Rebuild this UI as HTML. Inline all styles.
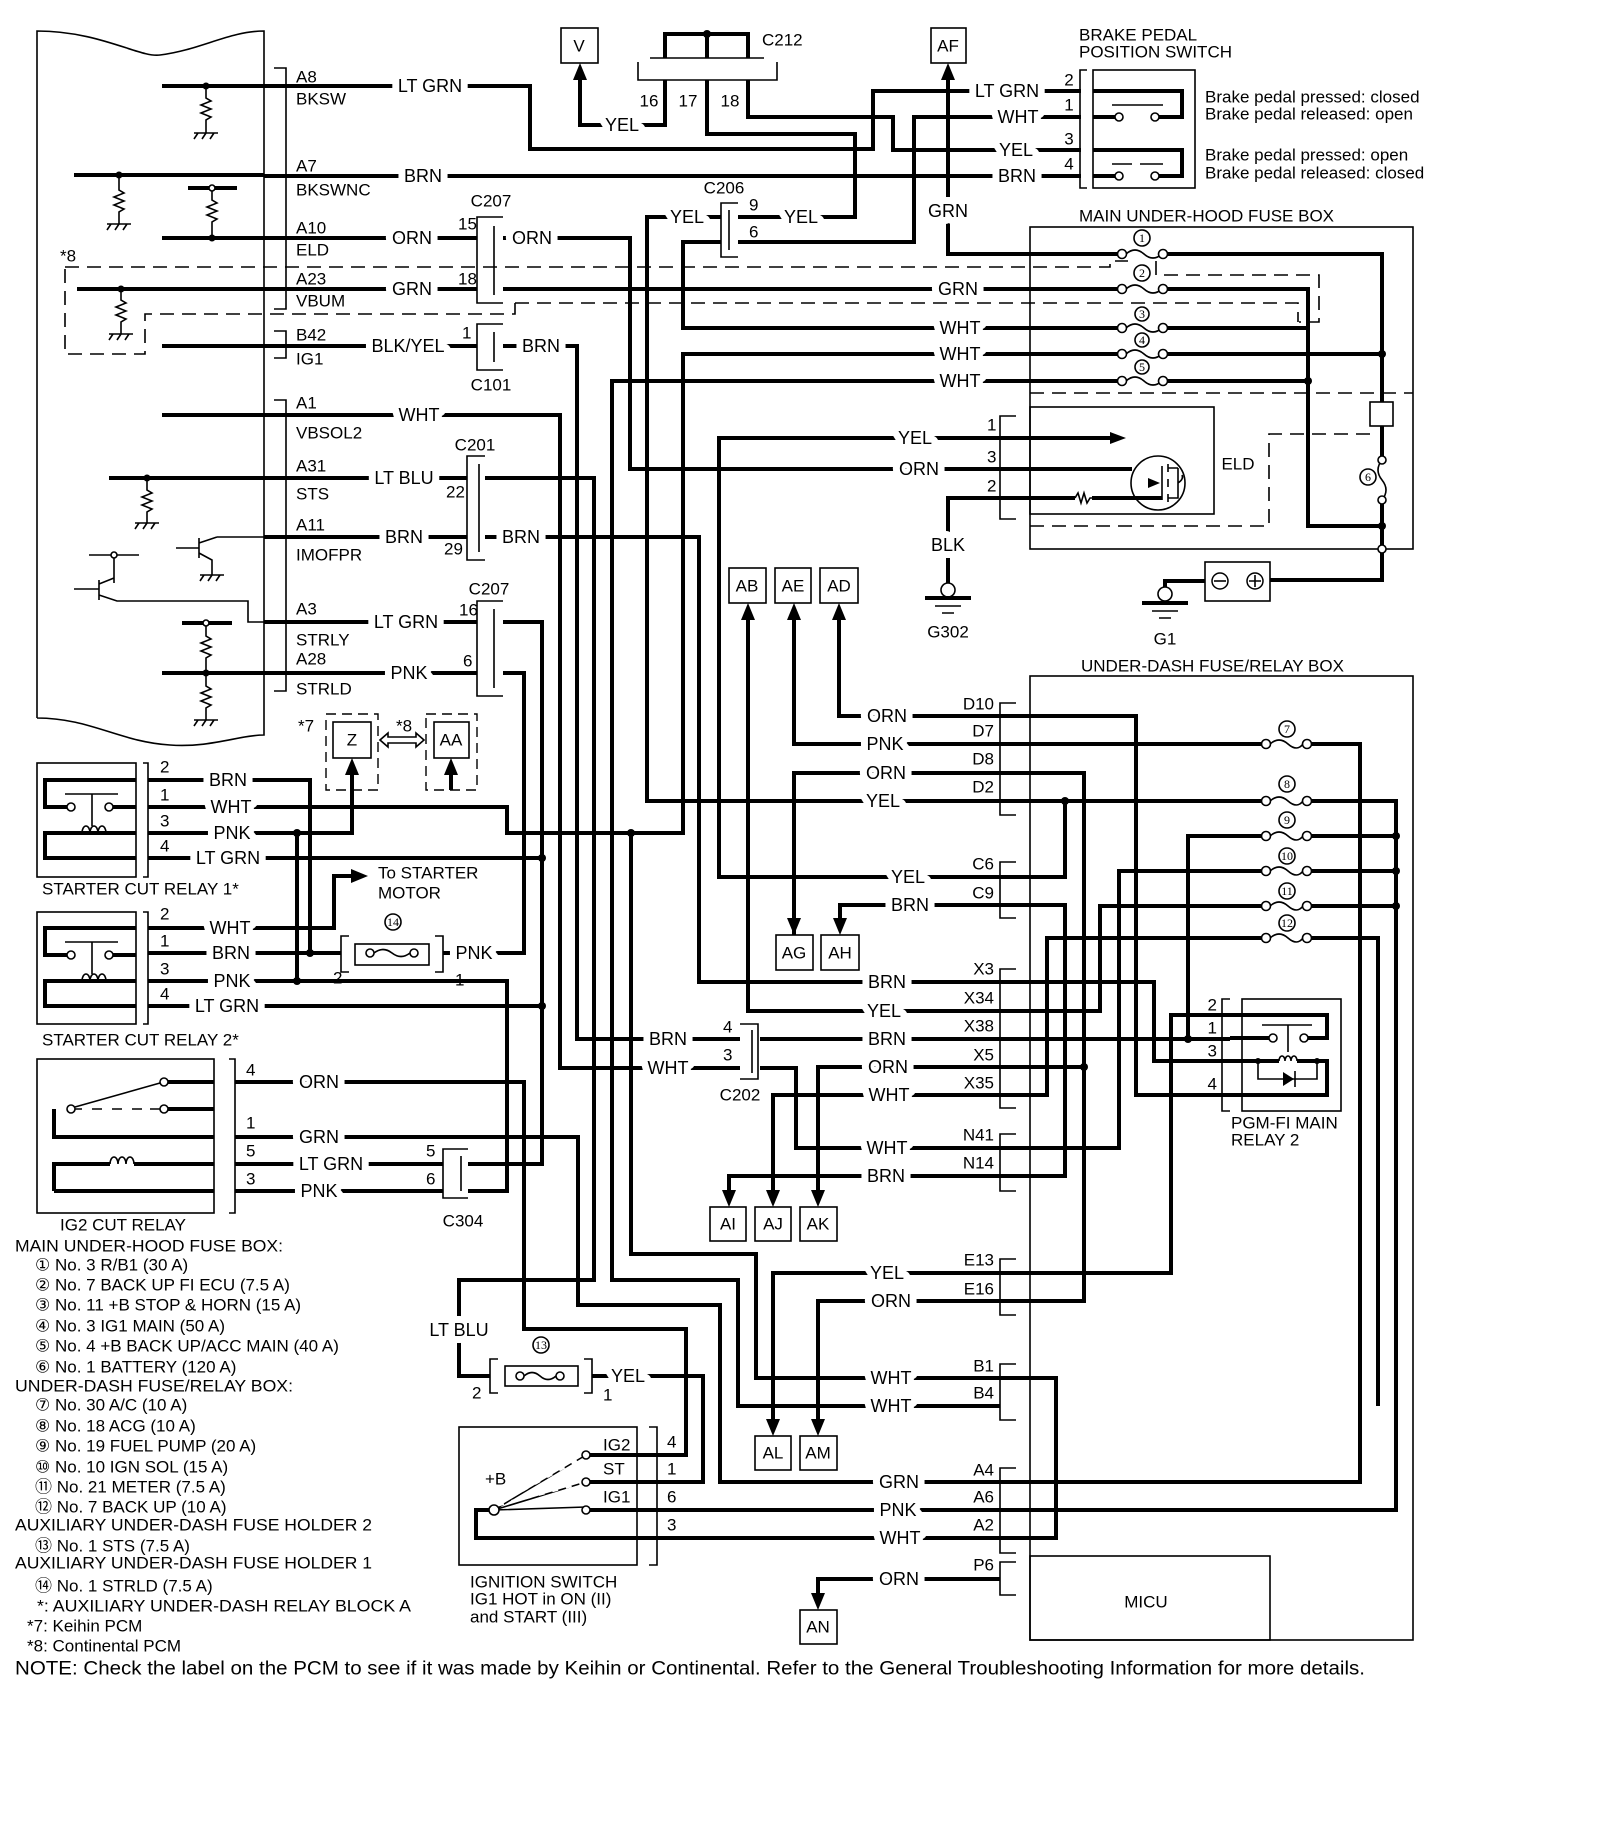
<!DOCTYPE html>
<html><head><meta charset="utf-8"><style>
html,body{margin:0;padding:0;background:#fff}
svg{display:block}
text{font-family:"Liberation Sans","DejaVu Sans","Noto Sans CJK JP",sans-serif;fill:#000}
.w{fill:none;stroke:#000;stroke-width:4;stroke-linejoin:miter}
.t{fill:none;stroke:#000;stroke-width:1.6}
.d{fill:none;stroke:#000;stroke-width:1.6;stroke-dasharray:14 8}
.l{font-size:18px;stroke:#fff;stroke-width:14px;stroke-linejoin:round;paint-order:stroke;dominant-baseline:central}
.n{font-size:17px;dominant-baseline:central}
.g{font-size:17px;dominant-baseline:central}
.bx{fill:#fff;stroke:#000;stroke-width:1.6}
.ar{fill:#000}
.dot{fill:#000}
.oc{fill:#fff;stroke:#000;stroke-width:1.6}
.fn{font-size:12px;font-family:"Liberation Serif",serif;dominant-baseline:central;text-anchor:middle}
</style></head><body>
<svg width="1600" height="1839" viewBox="0 0 1600 1839" xmlns="http://www.w3.org/2000/svg">

<!-- PCM box -->
<path class="t" d="M37,718 V31 C100,31 140,58 160,55 C200,50 230,31 264,31 V735 C240,735 210,748 170,745 C120,742 90,718 37,718"/>
<!-- PCM internal -->
<g>
<path class="w" d="M162,86 H264 M74,175 H264 M188,188 H237 M162,238 H264 M77,289 H264 M162,346 H264 M162,415 H264 M109,478 H264 M182,623 H232 M162,673 H264"/>
<path class="t" d="M206,86 V98 l5,3 l-10,4 l10,4 l-10,4 l10,4 l-5,3 V133 M194,133 h24 M198,133 l-4,6 M206,133 l-4,6 M214,133 l-4,6"/>
<path class="t" d="M119,175 V190 l5,3 l-10,4 l10,4 l-10,4 l10,4 l-5,3 V224 M107,224 h24 M111,224 l-4,6 M119,224 l-4,6 M127,224 l-4,6"/>
<path class="t" d="M212,188 V200 l5,3 l-10,4 l10,4 l-10,4 l10,4 l-5,3 V238"/>
<path class="t" d="M121,289 V300 l5,3 l-10,4 l10,4 l-10,4 l10,4 l-5,3 V334 M109,334 h24 M113,334 l-4,6 M121,334 l-4,6 M129,334 l-4,6"/>
<path class="t" d="M147,478 V490 l5,3 l-10,4 l10,4 l-10,4 l10,4 l-5,3 V523 M135,523 h24 M139,523 l-4,6 M147,523 l-4,6 M155,523 l-4,6"/>
<path class="t" d="M206,623 V636 l5,3 l-10,4 l10,4 l-10,4 l10,4 l-5,3 V673 V686 l5,3 l-10,4 l10,4 l-10,4 l10,4 l-5,3 V720 M194,720 h24 M198,720 l-4,6 M206,720 l-4,6 M214,720 l-4,6"/>
<path class="t" d="M217,537 H264 M176,548 H199 M199,538 V558 M199,543 L217,537 M199,553 L212,560 V575 M200,575 h24 M204,575 l-4,6 M212,575 l-4,6 M220,575 l-4,6"/>
<path class="t" d="M89,555 H139 M114,555 V583 M99,580 V600 M74,589 H99 M99,584 L114,578 M99,595 L117,601 H248 V622 H264"/>
<circle class="dot" cx="206" cy="86" r="3.5"/><circle class="dot" cx="119" cy="175" r="3.5"/>
<circle class="oc" cx="212" cy="188" r="3"/><circle class="dot" cx="212" cy="238" r="3.5"/>
<circle class="dot" cx="121" cy="289" r="3.5"/><circle class="dot" cx="147" cy="478" r="3.5"/>
<circle class="oc" cx="114" cy="555" r="3"/><circle class="oc" cx="206" cy="623" r="3"/>
<circle class="dot" cx="206" cy="673" r="3.5"/>
</g>
<!-- PCM bracket -->
<path class="t" d="M274,68 H286 V309 H274 M274,331 H286 V358 H274 M274,400 H286 V691 H274"/>
<g class="n">
<text x="296" y="77">A8</text><text x="296" y="99">BKSW</text>
<text x="296" y="166">A7</text><text x="296" y="190">BKSWNC</text>
<text x="296" y="228">A10</text><text x="296" y="250">ELD</text>
<text x="296" y="279">A23</text><text x="296" y="301">VBUM</text>
<text x="296" y="335">B42</text><text x="296" y="359">IG1</text>
<text x="296" y="403">A1</text><text x="296" y="433">VBSOL2</text>
<text x="296" y="466">A31</text><text x="296" y="494">STS</text>
<text x="296" y="525">A11</text><text x="296" y="555">IMOFPR</text>
<text x="296" y="609">A3</text><text x="296" y="640">STRLY</text>
<text x="296" y="659">A28</text><text x="296" y="689">STRLD</text>
</g>

<!-- dashed *8 -->
<path class="d" d="M65,267 H1110 V261 H1128 M1156,261 V275 H1319 V322 H1299 M515,303 H1298 V322 M515,303 V314 H145 V354 H65 V267"/>
<text class="n" x="60" y="256">*8</text>

<!-- main wires -->
<path class="w" d="M264,86 H530 V149 H873 V91 H1081"/>
<path class="w" d="M264,176 H1081"/>
<path class="w" d="M264,238 H477 M503,238 H630 V469 H1000"/>
<path class="w" d="M264,289 H477 M503,289 H1122"/>
<path class="w" d="M264,346 H477 M503,346 H577 V1039 H740"/>
<path class="w" d="M264,415 H560 V1068 H740"/>
<path class="w" d="M264,478 H467 M485,478 H594 V1280 H459 V1376 H490"/>
<path class="w" d="M264,537 H467 M485,537 H699 V982 H1000"/>
<path class="w" d="M264,622 H477 M503,622 H542 V1164 H468"/>
<path class="w" d="M264,673 H477 M503,673 H524 V953 H443"/>
<!-- C212 -->
<path class="w" d="M665,58 V34 H748 V58 M707,34 V58"/>
<circle class="dot" cx="707" cy="34" r="4"/>
<path class="t" d="M650,58 H764 M638,62 V80 H777 V62"/>
<path class="w" d="M665,80 V125 H580 V78"/>
<path class="w" d="M707,80 V134 H855 V217 H738"/>
<path class="w" d="M748,80 V117 H893 V150 H1081"/>
<path class="w" d="M1081,117 H914 V242 H738"/>
<path class="w" d="M721,217 H647 V801 H1000"/>
<path class="w" d="M721,242 H683 V328 H1122"/>
<path class="w" d="M948,78 V254 H1122"/>
<path class="w" d="M1122,354 H683 V833 H507 V807 H148"/>
<path class="w" d="M631,833 V1254 H756 V1378 H1056 V1538 H637"/>
<path class="w" d="M1122,381 H612 V1280 H738 V1406 H1000"/>
<path class="w" d="M1000,438 H719 V877 H1065 V801"/>
<path class="w" d="M1000,498 H948 V584"/>
<!-- fuse box right side -->
<path class="w" d="M1163,254 H1382 V456 M1382,504 V580 H1270"/>
<path class="w" d="M1163,289 H1308 V526 H1382 M1163,328 H1308 M1163,354 H1382 M1163,381 H1308"/>
<circle class="dot" cx="1382" cy="354" r="4"/><circle class="dot" cx="1382" cy="526" r="4"/><circle class="dot" cx="1308" cy="381" r="4"/>
<!-- connectors top -->
<path class="t" d="M503,217 H477 V303 H503 M494,226 V295"/>
<path class="t" d="M503,324 H477 V370 H503 M494,332 V362"/>
<path class="t" d="M485,456 H467 V560 H485 M479,464 V552"/>
<path class="t" d="M503,601 H477 V696 H503 M494,609 V688"/>
<path class="t" d="M738,203 H721 V257 H738 M729,210 V250"/>
<text class="n" x="458" y="224">15</text><text class="n" x="458" y="279">18</text>
<text class="n" x="491" y="201" text-anchor="middle">C207</text>
<text class="n" x="462" y="333">1</text><text class="n" x="491" y="385" text-anchor="middle">C101</text>
<text class="n" x="475" y="445" text-anchor="middle">C201</text>
<text class="n" x="446" y="492">22</text><text class="n" x="444" y="549">29</text>
<text class="n" x="459" y="610">16</text><text class="n" x="463" y="661">6</text>
<text class="n" x="489" y="589" text-anchor="middle">C207</text>
<text class="n" x="749" y="205">9</text><text class="n" x="749" y="232">6</text>
<text class="n" x="724" y="188" text-anchor="middle">C206</text>
<text class="n" x="762" y="40">C212</text>
<text class="n" x="649" y="101" text-anchor="middle">16</text><text class="n" x="688" y="101" text-anchor="middle">17</text><text class="n" x="730" y="101" text-anchor="middle">18</text>

<!-- wire labels top -->
<g class="l" text-anchor="middle">
<text x="430" y="86">LT GRN</text><text x="423" y="176">BRN</text><text x="412" y="238">ORN</text>
<text x="532" y="238">ORN</text><text x="412" y="289">GRN</text><text x="408" y="346">BLK/YEL</text>
<text x="541" y="346">BRN</text><text x="419" y="415">WHT</text><text x="404" y="478">LT BLU</text>
<text x="404" y="537">BRN</text><text x="521" y="537">BRN</text><text x="406" y="622">LT GRN</text>
<text x="409" y="673">PNK</text><text x="622" y="125">YEL</text><text x="801" y="217">YEL</text>
<text x="687" y="217">YEL</text><text x="1007" y="91">LT GRN</text><text x="1018" y="117">WHT</text>
<text x="1016" y="150">YEL</text><text x="1017" y="176">BRN</text><text x="948" y="211">GRN</text>
<text x="958" y="289">GRN</text><text x="960" y="328">WHT</text><text x="960" y="354">WHT</text><text x="960" y="381">WHT</text>
<text x="915" y="438">YEL</text><text x="919" y="469">ORN</text><text x="948" y="545">BLK</text>
</g>

<!-- boxes V AF -->
<rect class="bx" x="561" y="28" width="37" height="35"/><text class="n" x="579" y="46" text-anchor="middle">V</text>
<rect class="bx" x="931" y="28" width="35" height="35"/><text class="n" x="948" y="46" text-anchor="middle">AF</text>
<polygon class="ar" points="580,63 573,80 587,80"/><polygon class="ar" points="948,63 941,80 955,80"/>

<!-- brake switch -->
<text class="n" x="1079" y="35">BRAKE PEDAL</text><text class="n" x="1079" y="52">POSITION SWITCH</text>
<path class="t" d="M1087,70 H1080 V188 H1087"/>
<rect class="bx" x="1093" y="70" width="102" height="118"/>
<path class="w" d="M1093,91 H1182 V117 H1157 M1117,117 H1093 M1093,150 H1182 V176 H1157 M1117,176 H1093"/>
<path class="t" d="M1112,105 H1163"/><path class="t" d="M1112,164 H1132 M1140,164 H1163"/>
<circle class="oc" cx="1119" cy="117" r="4"/><circle class="oc" cx="1155" cy="117" r="4"/>
<circle class="oc" cx="1119" cy="176" r="4"/><circle class="oc" cx="1155" cy="176" r="4"/>
<g class="n" text-anchor="middle"><text x="1069" y="80">2</text><text x="1069" y="105">1</text><text x="1069" y="139">3</text><text x="1069" y="164">4</text></g>
<g class="g"><text x="1205" y="97">Brake pedal pressed: closed</text><text x="1205" y="114">Brake pedal released: open</text>
<text x="1205" y="155">Brake pedal pressed: open</text><text x="1205" y="173">Brake pedal released: closed</text></g>

<!-- main under-hood fuse box -->
<text class="n" x="1079" y="216">MAIN UNDER-HOOD FUSE BOX</text>
<rect x="1030" y="227" width="383" height="322" fill="none" stroke="#000" stroke-width="1.6"/>
<path class="d" d="M1030,393 H1413 M1030,526 H1269 V434 H1370"/>
<g id="fuses">
<path class="t" d="M1126,254 q9,-8 18,0 t18,0 M1126,289 q9,-8 18,0 t18,0 M1126,328 q9,-8 18,0 t18,0 M1126,354 q9,-8 18,0 t18,0 M1126,381 q9,-8 18,0 t18,0"/>
<circle class="oc" cx="1122" cy="254" r="4.5"/><circle class="oc" cx="1163" cy="254" r="4.5"/>
<circle class="oc" cx="1122" cy="289" r="4.5"/><circle class="oc" cx="1163" cy="289" r="4.5"/>
<circle class="oc" cx="1122" cy="328" r="4.5"/><circle class="oc" cx="1163" cy="328" r="4.5"/>
<circle class="oc" cx="1122" cy="354" r="4.5"/><circle class="oc" cx="1163" cy="354" r="4.5"/>
<circle class="oc" cx="1122" cy="381" r="4.5"/><circle class="oc" cx="1163" cy="381" r="4.5"/>
<circle class="oc" cx="1142" cy="238" r="8"/><text class="fn" x="1142" y="238">1</text>
<circle class="oc" cx="1142" cy="273" r="8"/><text class="fn" x="1142" y="273">2</text>
<circle class="oc" cx="1142" cy="314" r="7"/><text class="fn" x="1142" y="314">3</text>
<circle class="oc" cx="1142" cy="340" r="7"/><text class="fn" x="1142" y="340">4</text>
<circle class="oc" cx="1142" cy="367" r="7"/><text class="fn" x="1142" y="367">5</text>
</g>
<rect class="bx" x="1370" y="402" width="23" height="24"/>
<path class="t" d="M1382,460 q-8,10 0,20 t0,20"/>
<circle class="oc" cx="1382" cy="460" r="4"/><circle class="oc" cx="1382" cy="500" r="4"/>
<circle class="oc" cx="1368" cy="477" r="8"/><text class="fn" x="1368" y="477">6</text>
<circle class="oc" cx="1382" cy="549" r="4"/>
<!-- ELD -->
<path class="t" d="M1016,416 H1000 V519 H1016"/>
<g class="n"><text x="987" y="425">1</text><text x="987" y="457">3</text><text x="987" y="486">2</text></g>
<rect x="1030" y="407" width="184" height="107" fill="none" stroke="#000" stroke-width="1.6"/>
<path class="w" d="M1000,438 H1112 M1000,469 H1132 M1000,498 H1075 M1092,498 H1162"/>
<polygon class="ar" points="1126,438 1110,432 1110,444"/>
<path class="t" d="M1075,498 l3,-5 l3,10 l3,-10 l3,10 l3,-5 h2"/>
<circle cx="1158" cy="483" r="27" fill="none" stroke="#000" stroke-width="1.6"/>
<path class="t" d="M1162,466 V500 M1168,464 V472 M1168,479 V487 M1168,494 V502 M1168,468 H1178 M1168,498 H1178 V468 M1178,483 q6,-4 4,-8"/>
<polygon class="ar" points="1160,483 1148,478 1148,488"/>
<text class="n" x="1238" y="464" text-anchor="middle">ELD</text>
<!-- G302 / battery / G1 -->
<circle class="oc" cx="948" cy="590" r="7"/>
<path class="w" d="M925,598 H971"/><path class="t" d="M935,606 H961 M942,613 H954"/>
<text class="n" x="948" y="632" text-anchor="middle">G302</text>
<rect class="bx" x="1205" y="562" width="65" height="39"/>
<circle cx="1220" cy="581" r="8" fill="none" stroke="#000" stroke-width="1.5"/><path class="t" d="M1214,581 h12"/>
<circle cx="1255" cy="581" r="8" fill="none" stroke="#000" stroke-width="1.5"/><path class="t" d="M1249,581 h12 M1255,575 v12"/>
<path class="w" d="M1205,581 H1165 V592"/>
<circle class="oc" cx="1165" cy="594" r="7"/>
<path class="w" d="M1142,603 H1188"/><path class="t" d="M1152,611 H1178 M1159,618 H1171"/>
<text class="n" x="1165" y="639" text-anchor="middle">G1</text>

<!-- AB AE AD -->
<rect class="bx" x="729" y="568" width="37" height="35"/><text class="n" x="747" y="586" text-anchor="middle">AB</text>
<rect class="bx" x="775" y="568" width="36" height="35"/><text class="n" x="793" y="586" text-anchor="middle">AE</text>
<rect class="bx" x="820" y="568" width="38" height="35"/><text class="n" x="839" y="586" text-anchor="middle">AD</text>
<path class="w" d="M748,618 V1011 H1100 V906 H1266 M794,618 V744 H1266 M839,618 V716 H1136 V1095 H1230"/>
<polygon class="ar" points="748,603 741,620 755,620"/><polygon class="ar" points="794,603 787,620 801,620"/><polygon class="ar" points="839,603 832,620 846,620"/>

<!-- under-dash box -->
<text class="n" x="1081" y="666">UNDER-DASH FUSE/RELAY BOX</text>
<rect x="1030" y="676" width="383" height="964" fill="none" stroke="#000" stroke-width="1.6"/>
<rect x="1030" y="1556" width="240" height="84" fill="none" stroke="#000" stroke-width="1.6"/>
<text class="n" x="1146" y="1602" text-anchor="middle">MICU</text>
<path class="t" d="M1016,703 H1000 V815 H1016 M1016,862 H1000 V918 H1016 M1016,969 H1000 V1108 H1016 M1016,1134 H1000 V1191 H1016 M1016,1259 H1000 V1315 H1016 M1016,1364 H1000 V1420 H1016 M1016,1468 H1000 V1553 H1016 M1016,1562 H1000 V1595 H1016"/>
<g class="n" text-anchor="end">
<text x="994" y="704">D10</text><text x="994" y="731">D7</text><text x="994" y="759">D8</text><text x="994" y="787">D2</text>
<text x="994" y="864">C6</text><text x="994" y="893">C9</text>
<text x="994" y="969">X3</text><text x="994" y="998">X34</text><text x="994" y="1026">X38</text><text x="994" y="1055">X5</text><text x="994" y="1083">X35</text>
<text x="994" y="1135">N41</text><text x="994" y="1163">N14</text>
<text x="994" y="1260">E13</text><text x="994" y="1289">E16</text>
<text x="994" y="1366">B1</text><text x="994" y="1393">B4</text>
<text x="994" y="1470">A4</text><text x="994" y="1497">A6</text><text x="994" y="1525">A2</text><text x="994" y="1565">P6</text>
</g>
<!-- under-dash wires -->
<path class="w" d="M1307,744 H1360 V1482 H720 V1305 H578 V1137 H235"/>
<path class="w" d="M794,935 V773 H1084 V1301 H818 V1421"/>
<path class="w" d="M1000,801 H1266 M1307,801 H1396 V1510 H637"/>
<path class="w" d="M840,920 V905 H1065 V1176 H729 V1192"/>
<path class="w" d="M1000,982 H1154 V1061 H1230"/>
<path class="w" d="M1307,906 H1396"/>
<path class="w" d="M760,1039 H1230 M1188,1039 V836 H1266 M1307,836 H1396"/>
<path class="w" d="M818,1192 V1067 H1084"/>
<path class="w" d="M773,1192 V1095 H1047 V938 H1266 M1307,938 H1378 V1406"/>
<path class="w" d="M760,1068 H796 V1148 H1119 V871 H1266 M1307,871 H1396"/>
<path class="w" d="M773,1421 V1273 H1171 V1015 H1230"/>
<path class="w" d="M1000,1579 H818 V1595"/>
<path class="w" d="M794,920 V935"/>
<g>
<circle class="dot" cx="1065" cy="801" r="4"/><circle class="dot" cx="1084" cy="1067" r="4"/><circle class="dot" cx="1188" cy="1039" r="4"/>
<circle class="dot" cx="1396" cy="836" r="4"/><circle class="dot" cx="1396" cy="871" r="4"/><circle class="dot" cx="1396" cy="906" r="4"/>
</g>
<!-- fuses 7-12 -->
<path class="t" d="M1270,744 q9,-8 18,0 t15,0 M1270,801 q9,-8 18,0 t15,0 M1270,836 q9,-8 18,0 t15,0 M1270,871 q9,-8 18,0 t15,0 M1270,906 q9,-8 18,0 t15,0 M1270,938 q9,-8 18,0 t15,0"/>
<g>
<circle class="oc" cx="1266" cy="744" r="4.5"/><circle class="oc" cx="1307" cy="744" r="4.5"/>
<circle class="oc" cx="1266" cy="801" r="4.5"/><circle class="oc" cx="1307" cy="801" r="4.5"/>
<circle class="oc" cx="1266" cy="836" r="4.5"/><circle class="oc" cx="1307" cy="836" r="4.5"/>
<circle class="oc" cx="1266" cy="871" r="4.5"/><circle class="oc" cx="1307" cy="871" r="4.5"/>
<circle class="oc" cx="1266" cy="906" r="4.5"/><circle class="oc" cx="1307" cy="906" r="4.5"/>
<circle class="oc" cx="1266" cy="938" r="4.5"/><circle class="oc" cx="1307" cy="938" r="4.5"/>
<circle class="oc" cx="1287" cy="729" r="8"/><text class="fn" x="1287" y="729">7</text>
<circle class="oc" cx="1287" cy="784" r="8"/><text class="fn" x="1287" y="784">8</text>
<circle class="oc" cx="1287" cy="820" r="8"/><text class="fn" x="1287" y="820">9</text>
<circle class="oc" cx="1287" cy="856" r="8"/><text class="fn" x="1287" y="856" font-size="10">10</text>
<circle class="oc" cx="1287" cy="891" r="8"/><text class="fn" x="1287" y="891" font-size="10">11</text>
<circle class="oc" cx="1287" cy="923" r="8"/><text class="fn" x="1287" y="923" font-size="10">12</text>
</g>
<!-- PGM-FI relay -->
<path class="t" d="M1230,999 H1222 V1111 H1230"/>
<rect x="1242" y="999" width="99" height="112" fill="none" stroke="#000" stroke-width="1.6"/>
<g class="n" text-anchor="end"><text x="1217" y="1005">2</text><text x="1217" y="1028">1</text><text x="1217" y="1051">3</text><text x="1217" y="1084">4</text></g>
<path class="w" d="M1230,1015 H1327 V1038 H1304 M1273,1038 H1230 M1230,1061 H1258 M1230,1095 H1327 V1061 H1317"/>
<path class="t" d="M1262,1025 H1312 M1288,1025 V1052 M1258,1061 V1079 H1317 V1061"/>
<circle class="oc" cx="1273" cy="1038" r="4"/><circle class="oc" cx="1304" cy="1038" r="4"/>
<path class="w" d="M1258,1061 H1279 M1297,1061 H1317"/>
<path class="t" d="M1279,1061 a3,5 0 0 1 6,0 a3,5 0 0 1 6,0 a3,5 0 0 1 6,0"/>
<polygon class="ar" points="1283,1072 1283,1086 1294,1079"/><path class="t" d="M1295,1071 V1087"/>
<circle class="dot" cx="1258" cy="1061" r="3"/><circle class="dot" cx="1317" cy="1061" r="3"/>
<text class="n" x="1231" y="1123">PGM-FI MAIN</text><text class="n" x="1231" y="1140">RELAY 2</text>

<!-- under-dash wire labels -->
<g class="l" text-anchor="middle">
<text x="887" y="716">ORN</text><text x="885" y="744">PNK</text><text x="886" y="773">ORN</text><text x="883" y="801">YEL</text>
<text x="908" y="877">YEL</text><text x="910" y="905">BRN</text>
<text x="887" y="982">BRN</text><text x="884" y="1011">YEL</text><text x="887" y="1039">BRN</text><text x="888" y="1067">ORN</text><text x="889" y="1095">WHT</text>
<text x="887" y="1148">WHT</text><text x="886" y="1176">BRN</text>
<text x="887" y="1273">YEL</text><text x="891" y="1301">ORN</text>
<text x="891" y="1378">WHT</text><text x="891" y="1406">WHT</text>
<text x="899" y="1482">GRN</text><text x="898" y="1510">PNK</text><text x="900" y="1538">WHT</text>
<text x="899" y="1579">ORN</text>
<text x="668" y="1039">BRN</text><text x="668" y="1068">WHT</text>
</g>
<!-- C202 -->
<path class="t" d="M740,1024 H758 V1079 H740 M752,1030 V1073"/>
<text class="n" x="723" y="1027">4</text><text class="n" x="723" y="1055">3</text>
<text class="n" x="740" y="1095" text-anchor="middle">C202</text>

<!-- AG AH AI AJ AK AL AM AN -->
<g>
<rect class="bx" x="776" y="935" width="37" height="35"/><text class="n" x="794" y="953" text-anchor="middle">AG</text>
<rect class="bx" x="821" y="935" width="38" height="35"/><text class="n" x="840" y="953" text-anchor="middle">AH</text>
<rect class="bx" x="710" y="1207" width="36" height="34"/><text class="n" x="728" y="1224" text-anchor="middle">AI</text>
<rect class="bx" x="755" y="1207" width="36" height="34"/><text class="n" x="773" y="1224" text-anchor="middle">AJ</text>
<rect class="bx" x="800" y="1207" width="37" height="34"/><text class="n" x="818" y="1224" text-anchor="middle">AK</text>
<rect class="bx" x="755" y="1436" width="36" height="34"/><text class="n" x="773" y="1453" text-anchor="middle">AL</text>
<rect class="bx" x="800" y="1436" width="37" height="34"/><text class="n" x="818" y="1453" text-anchor="middle">AM</text>
<rect class="bx" x="800" y="1610" width="37" height="34"/><text class="n" x="818" y="1627" text-anchor="middle">AN</text>
<polygon class="ar" points="794,935 787,918 801,918"/><polygon class="ar" points="840,935 833,918 847,918"/>
<polygon class="ar" points="729,1207 722,1190 736,1190"/><polygon class="ar" points="773,1207 766,1190 780,1190"/><polygon class="ar" points="818,1207 811,1190 825,1190"/>
<polygon class="ar" points="773,1436 766,1419 780,1419"/><polygon class="ar" points="818,1436 811,1419 825,1419"/>
<polygon class="ar" points="818,1610 811,1593 825,1593"/>
</g>

<!-- relays left -->
<rect x="37" y="763" width="99" height="114" fill="none" stroke="#000" stroke-width="1.6"/>
<rect x="37" y="912" width="99" height="112" fill="none" stroke="#000" stroke-width="1.6"/>
<path class="t" d="M143,763 H148 V877 H143 M143,912 H148 V1024 H143"/>
<g id="r1">
<path class="w" d="M136,780 H45 V807 H67 M113,807 H136 M136,833 H82 M106,833 H45 V858 H136"/>
<path class="t" d="M65,794 H118 M92,794 V826"/>
<circle class="oc" cx="71" cy="807" r="4"/><circle class="oc" cx="109" cy="807" r="4"/>
<path class="t" d="M82,833 a4,7 0 0 1 8,0 a4,7 0 0 1 8,0 a4,7 0 0 1 8,0"/>
</g>
<use href="#r1" transform="translate(0,148)"/>
<g class="n"><text x="160" y="767">2</text><text x="160" y="795">1</text><text x="160" y="821">3</text><text x="160" y="846">4</text>
<text x="160" y="914">2</text><text x="160" y="941">1</text><text x="160" y="969">3</text><text x="160" y="994">4</text></g>
<text class="n" x="42" y="889">STARTER CUT RELAY 1*</text>
<text class="n" x="42" y="1040">STARTER CUT RELAY 2*</text>
<path class="w" d="M148,780 H310 V953 M148,953 H341"/>
<path class="w" d="M148,833 H352 V775 M297,833 V981"/>
<path class="w" d="M148,981 H507 V1191 H468 M443,1191 H235"/>
<path class="w" d="M148,858 H542 M148,1006 H542 M443,1164 H235"/>
<path class="w" d="M148,928 H334 V876 H352"/>
<path class="w" d="M524,953 H443"/>
<polygon class="ar" points="368,876 351,869 351,883"/>
<text class="n" x="378" y="873">To STARTER</text><text class="n" x="378" y="893">MOTOR</text>
<g><circle class="dot" cx="297" cy="833" r="4"/><circle class="dot" cx="310" cy="953" r="4"/><circle class="dot" cx="297" cy="981" r="4"/>
<circle class="dot" cx="542" cy="858" r="4"/><circle class="dot" cx="542" cy="1006" r="4"/><circle class="dot" cx="631" cy="833" r="4"/></g>
<g class="l" text-anchor="middle">
<text x="228" y="780">BRN</text><text x="231" y="807">WHT</text><text x="232" y="833">PNK</text><text x="228" y="858">LT GRN</text>
<text x="230" y="928">WHT</text><text x="231" y="953">BRN</text><text x="232" y="981">PNK</text><text x="227" y="1006">LT GRN</text>
<text x="474" y="953">PNK</text>
</g>
<!-- fuse 14 -->
<path class="t" d="M349,936 H341 V972 H349 M435,936 H443 V972 H435"/>
<rect x="355" y="944" width="74" height="21" fill="#fff" stroke="#000" stroke-width="1.6"/>
<path class="t" d="M374,953 q9,-7 18,0 t18,0"/>
<circle class="oc" cx="370" cy="953" r="4"/><circle class="oc" cx="414" cy="953" r="4"/>
<circle class="oc" cx="393" cy="922" r="8"/><text class="fn" x="393" y="922" font-size="10">14</text>
<text class="n" x="333" y="978">2</text><text class="n" x="455" y="980">1</text>
<!-- Z AA -->
<rect x="326" y="714" width="52" height="76" fill="none" stroke="#000" stroke-width="1.4" stroke-dasharray="10 6"/>
<rect x="426" y="714" width="51" height="76" fill="none" stroke="#000" stroke-width="1.4" stroke-dasharray="10 6"/>
<rect class="bx" x="333" y="722" width="38" height="36"/><text class="n" x="352" y="740" text-anchor="middle">Z</text>
<rect class="bx" x="434" y="722" width="35" height="36"/><text class="n" x="451" y="740" text-anchor="middle">AA</text>
<polygon class="ar" points="352,758 345,775 359,775"/>
<path class="w" d="M451,790 V772"/><polygon class="ar" points="451,758 444,775 458,775"/>
<path class="t" d="M380,740 l8,-7 v4 h28 v-4 l8,7 l-8,7 v-4 h-28 v4 z"/>
<text class="n" x="298" y="726">*7</text><text class="n" x="396" y="726">*8</text>

<!-- IG2 cut relay -->
<rect x="37" y="1059" width="177" height="154" fill="none" stroke="#000" stroke-width="1.6"/>
<path class="t" d="M229,1059 H235 V1213 H229"/>
<path class="w" d="M214,1082 H168 M214,1109 H168 M54,1109 V1137 H214 M54,1191 V1164 H110 M134,1164 H214 M54,1191 H214"/>
<path class="t" d="M75,1107 L160,1083 M75,1109 H82 M92,1109 H102 M112,1109 H122 M132,1109 H142 M150,1109 H160"/>
<circle class="oc" cx="164" cy="1082" r="4"/><circle class="oc" cx="164" cy="1109" r="4"/><circle class="oc" cx="71" cy="1109" r="4"/>
<path class="t" d="M110,1164 a4,7 0 0 1 8,0 a4,7 0 0 1 8,0 a4,7 0 0 1 8,0"/>
<g class="n"><text x="246" y="1070">4</text><text x="246" y="1123">1</text><text x="246" y="1151">5</text><text x="246" y="1179">3</text></g>
<path class="w" d="M235,1082 H524 V1329 H686 V1455 H637"/>
<path class="w" d="M592,1376 H703 V1482 H637"/>
<path class="w" d="M542,1006 V1164 H468"/>
<g class="l" text-anchor="middle"><text x="319" y="1082">ORN</text><text x="319" y="1137">GRN</text><text x="331" y="1164">LT GRN</text><text x="319" y="1191">PNK</text>
<text x="459" y="1330">LT BLU</text><text x="628" y="1376">YEL</text></g>
<path class="t" d="M468,1149 H443 V1198 H468 M461,1156 V1191"/>
<text class="n" x="426" y="1151">5</text><text class="n" x="426" y="1179">6</text>
<text class="n" x="463" y="1221" text-anchor="middle">C304</text>
<!-- fuse 13 -->
<path class="t" d="M498,1359 H490 V1393 H498 M584,1359 H592 V1393 H584"/>
<rect x="505" y="1366" width="73" height="20" fill="#fff" stroke="#000" stroke-width="1.6"/>
<path class="t" d="M524,1376 q8,-7 16,0 t16,0"/>
<circle class="oc" cx="520" cy="1376" r="4"/><circle class="oc" cx="560" cy="1376" r="4"/>
<circle class="oc" cx="541" cy="1345" r="8"/><text class="fn" x="541" y="1345" font-size="10">13</text>
<text class="n" x="472" y="1393">2</text><text class="n" x="603" y="1395">1</text>

<!-- ignition switch -->
<rect x="459" y="1427" width="178" height="138" fill="none" stroke="#000" stroke-width="1.6"/>
<path class="t" d="M649,1427 H657 V1565 H649"/>
<path class="w" d="M590,1455 H637 M590,1482 H637 M590,1510 H637 M494,1510 H476 V1538 H637"/>
<path class="t" d="M494,1510 L586,1507 M494,1510 L586,1482 M494,1510 L586,1455"/>
<path d="M498,1505 L586,1482 M498,1504 L586,1455" stroke="#fff" stroke-width="3" stroke-dasharray="6 8" fill="none"/>
<circle class="oc" cx="494" cy="1510" r="5"/><circle class="oc" cx="586" cy="1455" r="4"/><circle class="oc" cx="586" cy="1482" r="4"/><circle class="oc" cx="586" cy="1510" r="4"/>
<g class="n"><text x="603" y="1445">IG2</text><text x="603" y="1469">ST</text><text x="603" y="1497">IG1</text><text x="485" y="1479">+B</text>
<text x="667" y="1442">4</text><text x="667" y="1469">1</text><text x="667" y="1497">6</text><text x="667" y="1525">3</text></g>
<g class="n"><text x="470" y="1582">IGNITION SWITCH</text><text x="470" y="1599">IG1 HOT in ON (II)</text><text x="470" y="1617">and START (III)</text></g>

<!-- legend -->
<g class="g">
<text x="60" y="1225">IG2 CUT RELAY</text>
<text x="15" y="1246" textLength="268" lengthAdjust="spacingAndGlyphs">MAIN UNDER-HOOD FUSE BOX:</text>
<text x="35" y="1265">① No. 3 R/B1 (30 A)</text>
<text x="35" y="1285">② No. 7 BACK UP FI ECU (7.5 A)</text>
<text x="35" y="1305">③ No. 11 +B STOP &amp; HORN (15 A)</text>
<text x="35" y="1326">④ No. 3 IG1 MAIN (50 A)</text>
<text x="35" y="1346">⑤ No. 4 +B BACK UP/ACC MAIN (40 A)</text>
<text x="35" y="1367">⑥ No. 1 BATTERY (120 A)</text>
<text x="15" y="1386" textLength="278" lengthAdjust="spacingAndGlyphs">UNDER-DASH FUSE/RELAY BOX:</text>
<text x="35" y="1405">⑦ No. 30 A/C (10 A)</text>
<text x="35" y="1426">⑧ No. 18 ACG (10 A)</text>
<text x="35" y="1446">⑨ No. 19 FUEL PUMP (20 A)</text>
<text x="35" y="1467">⑩ No. 10 IGN SOL (15 A)</text>
<text x="35" y="1487">⑪ No. 21 METER (7.5 A)</text>
<text x="35" y="1507">⑫ No. 7 BACK UP (10 A)</text>
<text x="15" y="1525" textLength="357" lengthAdjust="spacingAndGlyphs">AUXILIARY UNDER-DASH FUSE HOLDER 2</text>
<text x="35" y="1546">⑬ No. 1 STS (7.5 A)</text>
<text x="15" y="1563" textLength="357" lengthAdjust="spacingAndGlyphs">AUXILIARY UNDER-DASH FUSE HOLDER 1</text>
<text x="35" y="1586">⑭ No. 1 STRLD (7.5 A)</text>
<text x="37" y="1606" textLength="374" lengthAdjust="spacingAndGlyphs">*: AUXILIARY UNDER-DASH RELAY BLOCK A</text>
<text x="27" y="1626">*7: Keihin PCM</text>
<text x="27" y="1646">*8: Continental PCM</text>
<text x="15" y="1669" textLength="1350" lengthAdjust="spacingAndGlyphs" font-size="19">NOTE: Check the label on the PCM to see if it was made by Keihin or Continental. Refer to the General Troubleshooting Information for more details.</text>
</g>
</svg>
</body></html>
